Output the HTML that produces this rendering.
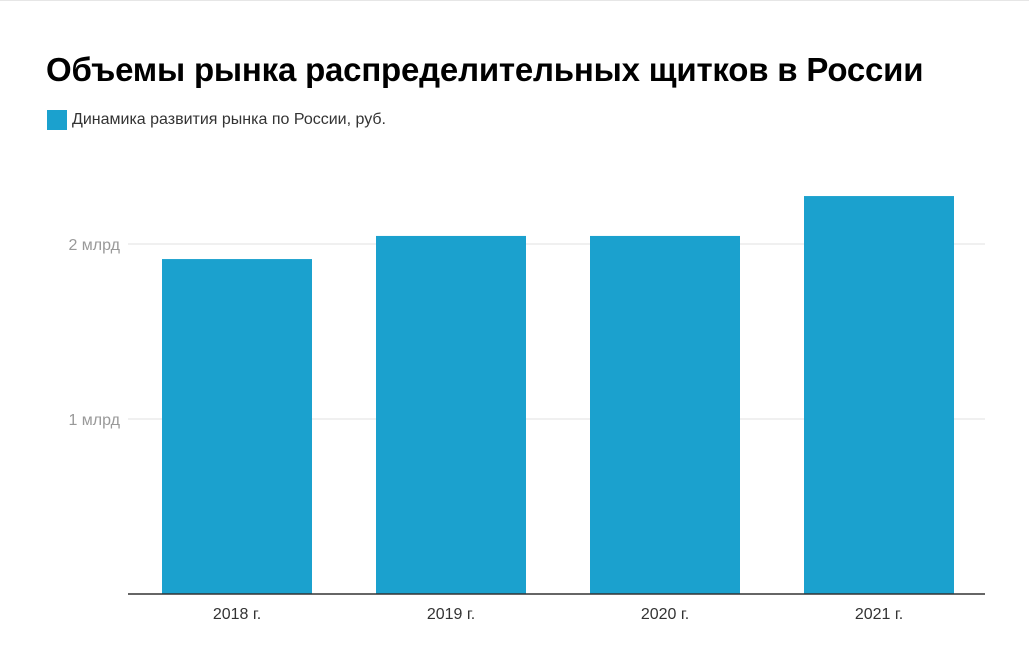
<!DOCTYPE html>
<html><head><meta charset="utf-8"><style>
body{margin:0;background:#fff;font-family:"Liberation Sans",Arial,sans-serif;}
#wrap{position:relative;width:1029px;height:652px;overflow:hidden;border-top:1px solid #e6e6e6;box-sizing:border-box;}
h1{position:absolute;left:46px;top:50px;margin:0;font-size:33px;font-weight:bold;color:#000;letter-spacing:-0.2px;}
#legend{position:absolute;left:47px;top:109px;display:flex;align-items:center;font-size:16px;color:#333;}
#legend span.sw{width:20px;height:20px;background:#1ba1ce;margin-right:5px;display:inline-block;}
</style></head><body>
<div id="wrap">
<h1>Объемы рынка распределительных щитков в России</h1>
<div id="legend"><span class="sw"></span><span>Динамика развития рынка по России, руб.</span></div>
<svg id="chart" width="1029" height="652" style="position:absolute;left:0;top:0"></svg>
</div>
<script>
const categories=["2018 г.","2019 г.","2020 г.","2021 г."];
const values=[1.914,2.046,2.046,2.274];
const tickValues=[1,2];
const tickLabels=["1 млрд","2 млрд"];
const svg=document.getElementById('chart');
const NS='http://www.w3.org/2000/svg';
const x0=130,x1=986,yBase=593,pxPer=175;
const y=v=>yBase-v*pxPer;
const band=(x1-x0)/categories.length, bw=150;
function mk(t,a){const e=document.createElementNS(NS,t);for(const k in a)e.setAttribute(k,a[k]);svg.appendChild(e);return e;}
tickValues.forEach((v,i)=>{
 const g=mk('line',{x1:128,x2:985,y1:y(v),y2:y(v),stroke:'#e0e0e0','stroke-width':1});
 
 
 const t=mk('text',{x:120,y:y(v)+6,'text-anchor':'end','font-size':16,fill:'#999','font-family':'Liberation Sans, sans-serif'});
 t.textContent=tickLabels[i];
 
 
});
categories.forEach((c,i)=>{
 const cx=x0+band*i+band/2;
 const r=mk('rect',{x:cx-bw/2,y:y(values[i]),width:bw,height:values[i]*pxPer,fill:'#1ba1ce'});
 
 
 const t=mk('text',{x:cx,y:618,'text-anchor':'middle','font-size':16,fill:'#333','font-family':'Liberation Sans, sans-serif'});
 t.textContent=c;
 
 
});
const ax=mk('line',{x1:128,x2:985,y1:yBase,y2:yBase,stroke:'#333','stroke-width':1.5});


</script>
</body></html>
